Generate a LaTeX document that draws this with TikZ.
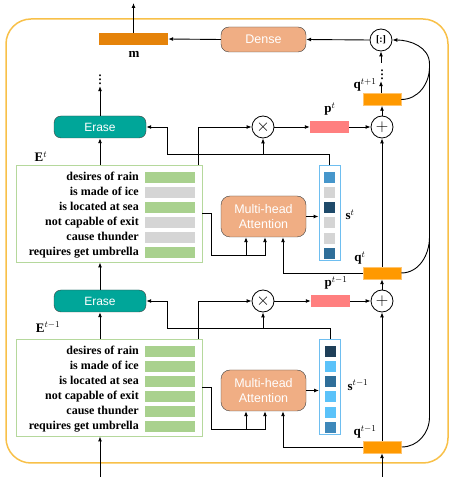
\documentclass[tikz,border=0pt]{standalone}
\usepackage{fontspec}
\setmainfont{Liberation Serif}
\newfontfamily\boxfont{Liberation Sans}
\usetikzlibrary{arrows.meta,positioning}
\definecolor{framecol}{RGB}{248,192,72}
\definecolor{erasecol}{RGB}{0,166,153}
\definecolor{salmon}{RGB}{240,174,132}
\definecolor{mcol}{RGB}{229,131,10}
\definecolor{qcol}{RGB}{255,153,0}
\definecolor{qedge}{RGB}{255,196,110}
\definecolor{pcol}{RGB}{255,127,127}
\definecolor{rowgreen}{RGB}{169,209,142}
\definecolor{rowgray}{RGB}{213,213,213}
\definecolor{eedge}{RGB}{181,216,156}
\definecolor{sedge}{RGB}{110,190,240}
\definecolor{sA}{RGB}{70,150,203}
\definecolor{sB}{RGB}{31,74,106}
\definecolor{sC}{RGB}{47,110,153}
\definecolor{sD}{RGB}{31,63,88}
\definecolor{sE}{RGB}{91,194,249}
\definecolor{sF}{RGB}{62,136,186}

\begin{document}
\begin{tikzpicture}[x=1pt,y=1pt,
      myarrow/.style={-{Latex[length=5pt,width=4pt]},line width=0.9pt},
      myline/.style={line width=0.9pt},
      erasebox/.style={
         rounded corners=7pt,
         draw=black!75,
         fill=erasecol,
         text=white,
         inner sep=0pt,
         minimum width=92pt,
         minimum height=22pt,
         font=\boxfont\fontsize{12}{14}\selectfont},
      salmonbox/.style={
         rounded corners=9pt,
         draw=black!75,
         fill=salmon,
         text=white,
         align=center,
         inner sep=0pt,
         minimum width=85pt,
         font=\boxfont\fontsize{12.5}{15}\selectfont},
      mycircle/.style={
         circle,
         draw=black,
         line width=0.8pt,
         fill=white,
         inner sep=0pt,
         minimum size=22pt},
      opsign/.style={mycircle,font=\fontsize{19}{19}\selectfont},
      bar/.style={rectangle,inner sep=0pt,minimum height=12pt},
      qbar/.style={bar,fill=qcol,draw=qedge,line width=0.5pt,minimum width=38pt},
      ebox/.style={rectangle,draw=eedge,line width=0.9pt,inner sep=0pt,
         minimum width=186pt,minimum height=97pt},
      sbox/.style={rectangle,draw=sedge,line width=0.9pt,inner sep=0pt,
         minimum width=21pt,minimum height=95pt},
      scell/.style={rectangle,draw=white,line width=0.5pt,inner sep=0pt,minimum size=12pt},
      rowbar/.style={rectangle,draw=white,line width=0.5pt,inner sep=0pt,
         minimum width=51pt,minimum height=12pt},
      rowtext/.style={anchor=base east,inner sep=0pt,font=\bfseries\fontsize{12}{14}\selectfont},
      lab/.style={inner sep=0pt,font=\fontsize{13}{15}\selectfont},
      dotsnode/.style={inner sep=0pt,font=\fontsize{16}{16}\selectfont}
      ]
      \useasboundingbox (0,0) rectangle (455,477);
      \draw[framecol,line width=1.5pt,rounded corners=25pt] (6,14) rectangle (448,458);

      % top of the cell
      \node[bar,fill=mcol,minimum width=69pt] (m) at (133.5,438) {};
      \node[lab] (mlab) at (134,423) {\textbf{m}};
      \node[salmonbox,minimum height=25pt,rounded corners=8pt] (dense) at (263.5,437.5) {Dense};
      \node[mycircle] (cat) at (381,437) {\textbf{[:]}};
      \node[qbar] (q2) at (382,377.5) {};
      \node[lab] (q2lab) at (365,392) {\textbf{q}$^{t+1}$};
      \node[dotsnode] (dotsq) at (382,405) {$\vdots$};
      \node[dotsnode] (dotse) at (100,400) {$\vdots$};
      \coordinate (outm) at (133.5,474);

      % step t
      \node[erasebox] (er1) at (100,350) {Erase};
      \node[ebox] (E1) at (109,263.5) {};
      \node[lab] (E1lab) at (41,320) {\textbf{E}$^{t}$};
      \node[salmonbox,minimum height=41pt] (M1) at (263.5,260.5) {Multi-head\\Attention};
      \node[sbox] (s1) at (329.5,264.5) {};
      \node[lab] (s1lab) at (350,262) {\textbf{s}$^{t}$};
      \node[opsign] (times1) at (263,350) {$\times$};
      \node[bar,fill=pcol,minimum width=39pt] (p1) at (329.5,350) {};
      \node[lab,anchor=base] (p1lab) at (330,364) {\textbf{p}$^{t}$};
      \node[opsign] (plus1) at (382,350) {$+$};
      \node[qbar] (q1) at (382,204) {};
      \node[lab] (q1lab) at (360,219) {\textbf{q}$^{t}$};

      % step t-1
      \node[erasebox] (er0) at (100,176) {Erase};
      \node[ebox] (E0) at (109,89.5) {};
      \node[lab] (E0lab) at (48,150) {\textbf{E}$^{t-1}$};
      \node[salmonbox,minimum height=41pt] (M0) at (263.5,86.5) {Multi-head\\Attention};
      \node[sbox] (s0) at (330,90.5) {};
      \node[lab] (s0lab) at (358,92) {\textbf{s}$^{t-1}$};
      \node[opsign] (times0) at (263,176) {$\times$};
      \node[bar,fill=pcol,minimum width=39pt] (p0) at (330.5,176) {};
      \node[lab,anchor=base] (p0lab) at (336,190) {\textbf{p}$^{t-1}$};
      \node[opsign] (plus0) at (382,176) {$+$};
      \node[qbar] (q0) at (382.5,30) {};
      \node[lab] (q0lab) at (365,45) {\textbf{q}$^{t-1}$};
      \coordinate (inE) at (100,0);
      \coordinate (inq) at (382,0);

    \foreach \i/\txt/\ca/\cb in {% row/text/colour at t/colour at t-1
      0/desires of rain/rowgreen/rowgreen,
      1/is made of ice/rowgray/rowgreen,
      2/is located at sea/rowgreen/rowgreen,
      3/not capable of exit/rowgray/rowgreen,
      4/cause thunder/rowgray/rowgreen,
      5/requires get umbrella/rowgreen/rowgreen}{
      \node[rowtext] (ta\i) at (139,296-15*\i) {\txt};
      \node[rowbar,fill=\ca] (ra\i) at (169.5,300-15*\i) {};
      \node[rowtext] (tb\i) at (139,122-15*\i) {\txt};
      \node[rowbar,fill=\cb] (rb\i) at (169.5,126-15*\i) {};
    }
    \foreach \i/\ca/\cb in {0/sA/sD,1/rowgray/sE,2/sB/sC,3/rowgray/sE,4/rowgray/sE,5/sC/sF}{
      \node[scell,fill=\ca] (sa\i) at (329.5,300-15.2*\i) {};
      \node[scell,fill=\cb] (sb\i) at (330,126-15.2*\i) {};
    }

    % straight arrows
    \draw[myarrow] (inE) -- (inE |- E0.south);
    \draw[myarrow] (inq) -- (q0.south -| inq);
    \draw[myarrow] (E0.north -| er0) -- (er0.south);
    \draw[myarrow] (er0.north) -- (E1.south -| er0);
    \draw[myarrow] (E1.north -| er1) -- (er1.south);
    \draw[myarrow] (er1.north) -- ([yshift=-1pt]dotse.south);
    \draw[myarrow] (m.north) -- (outm);
    \draw[myarrow] (cat.west) -- (dense.east);
    \draw[myarrow] (dense.west) -- (m.east);
    \draw[myarrow] (q2.north -| cat) -- ([yshift=-1pt]dotsq.south -| cat);
    \draw[myarrow] ([yshift=1pt]dotsq.north -| cat) -- (cat.south);
    \foreach \a/\b in {q0/plus0, plus0/q1, q1/plus1, plus1/q2}
       \draw[myarrow] (\a.north -| plus0) -- (\b.south -| plus0);
    \foreach \a/\b in {times0/p0, p0/plus0, times1/p1, p1/plus1}
       \draw[myarrow] (\a.east) -- (\b.west);
    \draw[myarrow] (M0.east) -- (M0.east -| s0.west);
    \draw[myarrow] (M1.east) -- (M1.east -| s1.west);

    % routed lines of each step
    \draw[myarrow] ([xshift=89pt]E1.north) |- (times1.west);
    \draw[myarrow] (s1.north) |- (167,323) |- (er1.east);
    \draw[myarrow] (263,323) -- (times1.south);
    \draw[myarrow] (E1.east) -- ++(9,0) -- ++(0,-41.5) -| ([xshift=1.5pt]M1.south);
    \draw[myarrow] (246,222) -- ([xshift=-17.5pt]M1.south);
    \draw[myarrow] (q1.west) -| ([xshift=19.5pt]M1.south);

    \draw[myarrow] ([xshift=89pt]E0.north) |- (times0.west);
    \draw[myarrow] (s0.north) |- (167,149) |- (er0.east);
    \draw[myarrow] (263,149) -- (times0.south);
    \draw[myarrow] (E0.east) -- ++(9,0) -- ++(0,-41.5) -| ([xshift=1.5pt]M0.south);
    \draw[myarrow] (246,48) -- ([xshift=-17.5pt]M0.south);
    \draw[myarrow] (q0.west) -| ([xshift=19.5pt]M0.south);

    % queries gathered on the right
    \draw[myarrow] (q0.east) to[out=0,in=-90] (429.5,60) -- (429.5,413) to[out=90,in=0] (cat.east);
    \draw[myline] (q1.east) to[out=0,in=-90] (429.5,240);
    \draw[myline] (q2.east) to[out=0,in=-90] (429.5,410);

    \end{tikzpicture}
\end{document}
